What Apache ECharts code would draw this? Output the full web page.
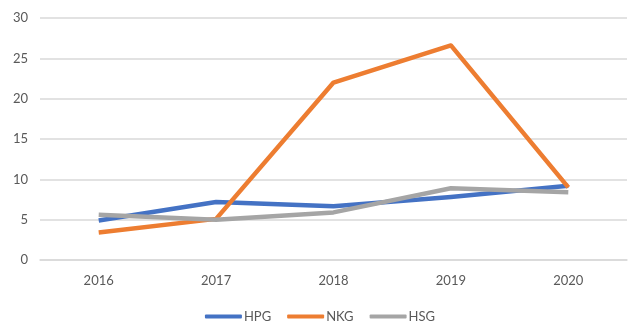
<!DOCTYPE html>
<html>
<head>
<meta charset="utf-8">
<script src="https://cdn.jsdelivr.net/npm/echarts@6/dist/echarts.min.js"></script>
<style>html,body{margin:0;padding:0;background:#fff}#c{width:640px;height:334px}</style>
</head>
<body>
<div id="c"></div>
<script>
const categories = ['2016', '2017', '2018', '2019', '2020'];
const hpg = [4.9, 7.2, 6.65, 7.8, 9.2];
const nkg = [3.4, 5.1, 22.0, 26.6, 9.0];
const hsg = [5.6, 5.0, 5.9, 8.9, 8.4];
const yTicks = { min: 0, max: 30, interval: 5 };

const font = 'Lato, "Open Sans", sans-serif';
const chart = echarts.init(document.getElementById('c'));
function line(name, data, color) {
  return {
    name, type: 'line', data, symbol: 'none', smooth: false,
    lineStyle: { color, width: 4.5, cap: 'butt', join: 'round' },
    itemStyle: { color }
  };
}
chart.setOption({
  animation: false,
  grid: { left: 40, right: 13, top: 18, bottom: 74 },
  xAxis: {
    type: 'category', data: categories, boundaryGap: true,
    axisLine: { show: true, lineStyle: { color: '#d9d9d9', width: 1.5 } },
    axisTick: { show: false },
    axisLabel: { color: '#595959', fontFamily: font, fontSize: 13, margin: 14 }
  },
  yAxis: {
    type: 'value', min: yTicks.min, max: yTicks.max, interval: yTicks.interval,
    axisLine: { show: false }, axisTick: { show: false },
    splitLine: { lineStyle: { color: '#d9d9d9', width: 1.5 } },
    axisLabel: { color: '#595959', fontFamily: font, fontSize: 13, margin: 12 }
  },
  legend: {
    bottom: 6, left: 'center', itemWidth: 37, itemHeight: 4, itemGap: 16,
    icon: 'roundRect',
    textStyle: { color: '#595959', fontFamily: font, fontSize: 13, padding: [0, 0, 0, -3] },
    data: ['HPG', 'NKG', 'HSG']
  },
  series: [
    line('HPG', hpg, '#4472C4'),
    line('NKG', nkg, '#ED7D31'),
    line('HSG', hsg, '#A5A5A5')
  ]
});
</script>
</body>
</html>
